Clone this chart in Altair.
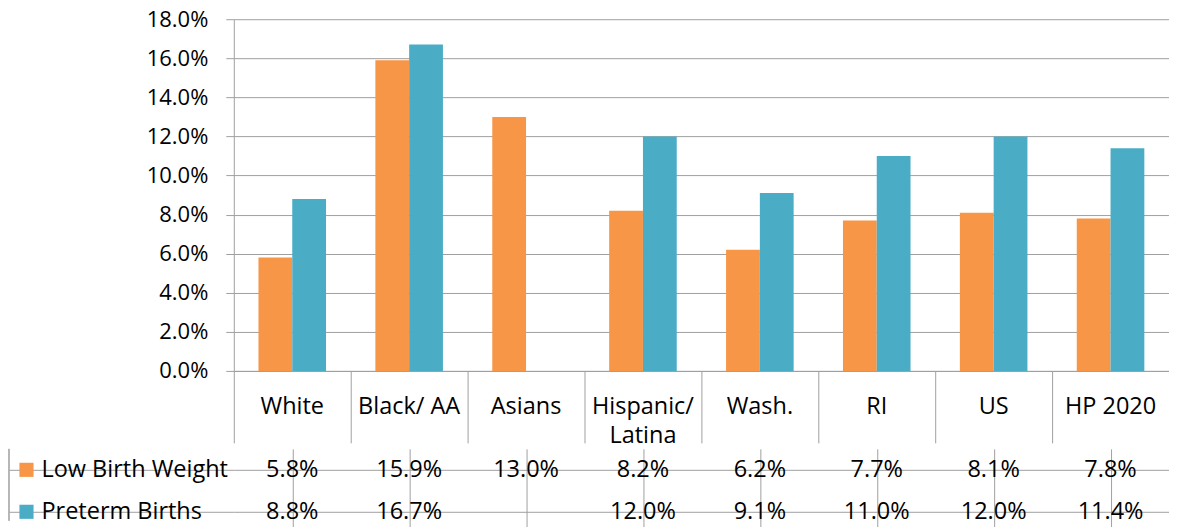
import altair as alt
import pandas as pd

categories = ["White", "Black/ AA", "Asians", "Hispanic/ Latina", "Wash.", "RI", "US", "HP 2020"]
low_birth_weight = [5.8, 15.9, 13.0, 8.2, 6.2, 7.7, 8.1, 7.8]
preterm_births = [8.8, 16.7, None, 12.0, 9.1, 11.0, 12.0, 11.4]
series_names = ["Low Birth Weight", "Preterm Births"]
series_colors = ["#F79646", "#4BACC6"]
y_tick_values = [0.00, 0.02, 0.04, 0.06, 0.08, 0.10, 0.12, 0.14, 0.16, 0.18]

rows = []
for cat, lbw, ptb in zip(categories, low_birth_weight, preterm_births):
    rows.append({"category": cat, "series": series_names[0], "value": lbw / 100})
    if ptb is not None:
        rows.append({"category": cat, "series": series_names[1], "value": ptb / 100})
df = pd.DataFrame(rows)
legend_df = pd.DataFrame({"series": series_names})

FONT = "Open Sans"
GRID = "#A0A0A0"
PLOT_W = 936
TXT = 23.5

color = alt.Color("series:N", scale=alt.Scale(domain=series_names, range=series_colors), legend=None)

bars = alt.Chart(df).mark_bar().encode(
    x=alt.X(
        "category:N", sort=categories,
        scale=alt.Scale(paddingInner=0, paddingOuter=0),
        axis=alt.Axis(
            title=None, orient="bottom", bandPosition=0, tickSize=72, tickColor=GRID,
            domainColor=GRID, labelPadding=-36, labelBaseline="middle",
            labelAlign="center", labelAngle=0, labelFont=FONT, labelFontSize=TXT, labelColor="black",
            labelLineHeight=29, labelOverlap=False, labelBound=False, labelLimit=0,
            labelExpr="datum.label == 'Hispanic/ Latina' ? ['Hispanic/', 'Latina'] : datum.label",
        ),
    ),
    xOffset=alt.XOffset("series:N", sort=series_names,
                        scale=alt.Scale(paddingInner=0, paddingOuter=0.73)),
    y=alt.Y(
        "value:Q", scale=alt.Scale(domain=[0, 0.18], nice=False),
        axis=alt.Axis(
            title=None, values=y_tick_values, format=".1%", tickSize=8, tickColor=GRID,
            domainColor=GRID, gridColor=GRID, labelPadding=18, labelFont=FONT,
            labelFontSize=22, labelColor="black",
        ),
    ),
    color=color,
).properties(width=PLOT_W, height=352)

table_x = alt.X(
    "category:N", sort=categories,
    scale=alt.Scale(paddingInner=0, paddingOuter=0),
    axis=alt.Axis(orient="top", bandPosition=0, grid=True, gridColor=GRID, labels=False,
                  ticks=False, domain=False, title=None),
)
table_y = alt.Y(
    "series:N", sort=series_names,
    scale=alt.Scale(paddingInner=0, paddingOuter=0, range=[0, 84]),
    axis=alt.Axis(
        orient="left", bandPosition=0, grid=True, gridColor=GRID, tickSize=225, tickColor=GRID,
        labelAlign="left", labelPadding=-32, labelBaseline="middle", labelLimit=0,
        labelFont=FONT, labelFontSize=TXT, labelColor="black", domain=False, title=None,
    ),
)

table_text = alt.Chart(df).mark_text(font=FONT, fontSize=TXT, color="black").encode(
    x=table_x, y=table_y, text=alt.Text("value:Q", format=".1%")
)
swatches = alt.Chart(legend_df).mark_square(size=200, opacity=1).encode(
    x=alt.value(-207.5), y=alt.Y("series:N", sort=series_names), color=color
)
left_border = alt.Chart(legend_df).mark_rule(color=GRID).encode(
    x=alt.value(-225), y=alt.value(0), y2=alt.value(72)
)

table = alt.layer(table_text, swatches, left_border).properties(width=PLOT_W, height=72)

chart = alt.vconcat(bars, table, spacing=0).properties(
    padding={"left": 0, "top": 0, "right": 0, "bottom": 0}
).configure_view(stroke=None).configure_concat(spacing=0)

chart.save("out.html", embed_options={"renderer": "svg", "actions": False})
